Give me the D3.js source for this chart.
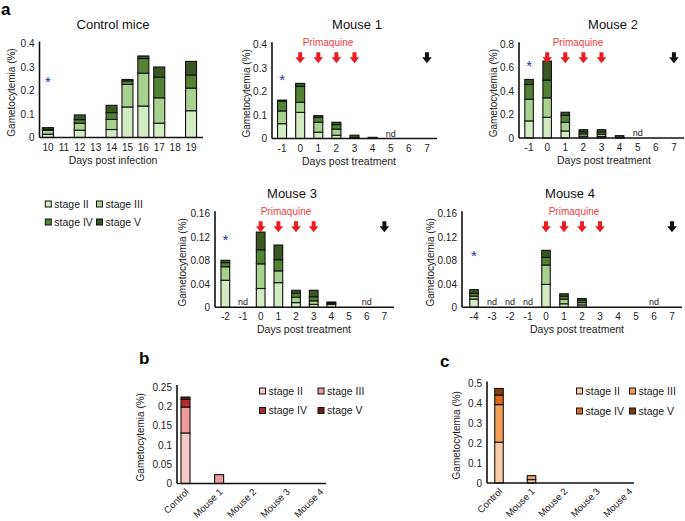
<!DOCTYPE html>
<html><head><meta charset="utf-8">
<script src="https://cdn.jsdelivr.net/npm/d3@7"></script>
<style>body{margin:0;background:#fff}svg{font-family:"Liberation Sans",Arial,sans-serif}</style>
</head><body>
<svg id="chart" width="685" height="521"></svg>
<script>
// ---------- data ----------
const stages = ["stage II", "stage III", "stage IV", "stage V"];
const greenColors = ["#d3ebc3", "#a9d18e", "#548235", "#385723"];
const pinkColors = ["#f6c9c9", "#ea9a9b", "#b8282f", "#6d1a1d"];
const orangeColors = ["#fbcba8", "#f4a057", "#dd6a1a", "#843c0c"];

const controlDays = ["10", "11", "12", "13", "14", "15", "16", "17", "18", "19"];
const controlValues = [
  [0.014, 0.017, 0.004, 0.007], null, [0.031, 0.030, 0.015, 0.020], null,
  [0.034, 0.043, 0.029, 0.031], [0.130, 0.096, 0.015, 0.006], [0.134, 0.140, 0.062, 0.011],
  [0.061, 0.108, 0.088, 0.043], null, [0.114, 0.096, 0.056, 0.058]];
const controlTicks = [0, 0.1, 0.2, 0.3, 0.4];

const mouse1Days = ["-1", "0", "1", "2", "3", "4", "5", "6", "7"];
const mouse1Values = [
  [0.063, 0.054, 0.042, 0.004], [0.111, 0.043, 0.067, 0.013], [0.027, 0.042, 0.021, 0.007],
  [0.014, 0.026, 0.019, 0.010], [0, 0, 0.004, 0.010], [0, 0, 0, 0.005], null, null, null];
const mouse1ND = ["5"];
const mouse1Ticks = [0, 0.1, 0.2, 0.3, 0.4];

const mouse2Days = ["-1", "0", "1", "2", "3", "4", "5", "6", "7"];
const mouse2Values = [
  [0.146, 0.185, 0.126, 0.043], [0.177, 0.166, 0.151, 0.163], [0.060, 0.074, 0.060, 0.026],
  [0.015, 0.020, 0.018, 0.018], [0.012, 0.020, 0.020, 0.019], [0, 0, 0.005, 0.015], null, null, null];
const mouse2ND = ["5"];
const mouse2Ticks = [0, 0.2, 0.4, 0.6, 0.8];

const mouse3Days = ["-2", "-1", "0", "1", "2", "3", "4", "5", "6", "7"];
const mouse3Values = [
  [0.046, 0.023, 0.007, 0.004], null, [0.032, 0.042, 0.024, 0.030], [0.042, 0.020, 0.019, 0.025],
  [0.008, 0.009, 0.007, 0.005], [0.005, 0.006, 0.007, 0.011], [0.005, 0.002, 0.001, 0.001], null, null, null];
const mouse3ND = ["-1", "6"];
const mouse3Ticks = [0, 0.04, 0.08, 0.12, 0.16];

const mouse4Days = ["-4", "-3", "-2", "-1", "0", "1", "2", "3", "4", "5", "6", "7"];
const mouse4Values = [
  [0.014, 0.005, 0.005, 0.006], null, null, null, [0.039, 0.033, 0.013, 0.012],
  [0.006, 0.008, 0.005, 0.004], [0.004, 0.004, 0.004, 0.003], null, null, null, null, null];
const mouse4ND = ["-3", "-2", "-1", "6"];
const mouse4Ticks = [0, 0.04, 0.08, 0.12, 0.16];

const treatmentDays = ["0", "1", "2", "3"];
const endDay = "7";

const groups = ["Control", "Mouse 1", "Mouse 2", "Mouse 3", "Mouse 4"];
const bValues = [[0.131, 0.067, 0.020, 0.006], [0, 0.023, 0, 0], [0, 0, 0, 0], [0, 0, 0, 0], [0, 0, 0, 0]];
const bTicks = [0, 0.05, 0.1, 0.15, 0.2, 0.25];
const cValues = [[0.205, 0.189, 0.048, 0.033], [0.017, 0.020, 0, 0], [0, 0, 0, 0], [0, 0, 0, 0], [0, 0, 0, 0]];
const cTicks = [0, 0.1, 0.2, 0.3, 0.4, 0.5];

// ---------- drawing ----------
const svg = d3.select("#chart");
const RED = "#ec1c24";

function stack(vals) {
  let acc = 0;
  return vals.map((v, i) => { const s = {i, y0: acc, y1: acc + v}; acc += v; return s; }).filter(s => s.y1 > s.y0);
}

function arrowPath(cx, top) {
  return `M${cx-2},${top} L${cx+2},${top} L${cx+2},${top+5} L${cx+4.8},${top+5} L${cx},${top+11} L${cx-4.8},${top+5} L${cx-2},${top+5} Z`;
}

function panel(c) {
  const g = svg.append("g");
  const y = d3.scaleLinear().domain([0, c.ticks[c.ticks.length - 1]]).range([c.y0, c.y1]);
  let x, bw;
  if (c.point) {
    x = d3.scalePoint().domain(c.days).range(c.band);
    bw = 0;
  } else {
    x = d3.scaleBand().domain(c.days).range(c.band);
    bw = x.bandwidth();
  }
  const cx = d => x(d) + bw / 2;

  // bars
  c.days.forEach((d, k) => {
    const v = c.values[k];
    if (!v) return;
    stack(v).forEach(s => {
      g.append("rect")
        .attr("x", cx(d) - c.barW / 2).attr("width", c.barW)
        .attr("y", y(s.y1)).attr("height", y(s.y0) - y(s.y1))
        .attr("fill", c.colors[s.i]).attr("stroke", "#111").attr("stroke-width", 1.1);
    });
  });

  // y axis
  const ya = d3.axisLeft(y).tickValues(c.ticks).tickSize(0).tickPadding(5).tickFormat(d3.format("~g"));
  const yg = g.append("g").attr("transform", `translate(${c.ax0},0)`).call(ya);
  yg.select(".domain").remove();
  yg.selectAll("text").attr("font-size", 10).attr("fill", "#222").attr("font-family", "Liberation Sans, Arial, sans-serif");
  g.append("line").attr("x1", c.ax0).attr("x2", c.ax0).attr("y1", c.y0).attr("y2", c.y1 - 2).attr("stroke", "#111").attr("stroke-width", 1.6);
  g.append("line").attr("x1", c.ax0).attr("x2", c.ax1).attr("y1", c.y0).attr("y2", c.y0).attr("stroke", "#111").attr("stroke-width", 1.6);

  // x axis
  if (c.rotate) {
    c.days.forEach(d => {
      g.append("text").attr("transform", `translate(${cx(d) + 4},${c.y0 + 9}) rotate(-45)`)
        .attr("text-anchor", "end").attr("font-size", 9.5).attr("fill", "#222").text(d);
    });
  } else {
    const xa = d3.axisBottom(x).tickSize(0).tickPadding(6);
    const xg = g.append("g").attr("transform", `translate(0,${c.y0})`).call(xa);
    xg.select(".domain").remove();
    xg.selectAll("text").attr("font-size", 10).attr("fill", "#222").attr("font-family", "Liberation Sans, Arial, sans-serif");
  }

  // y title
  g.append("text").attr("transform", `translate(${c.ytx},${(c.y0 + c.y1) / 2 + 2}) rotate(-90)`)
    .attr("text-anchor", "middle").attr("font-size", 10).attr("fill", "#222").text("Gametocytemia (%)");

  if (c.title) g.append("text").attr("x", c.titleX).attr("y", c.titleY).attr("text-anchor", "middle")
    .attr("font-size", 13).attr("fill", "#111").text(c.title);
  if (c.xlabel) g.append("text").attr("x", c.xlabelX).attr("y", c.y0 + 26).attr("text-anchor", "middle")
    .attr("font-size", 10.5).attr("fill", "#222").text(c.xlabel);

  // nd
  (c.nd || []).forEach(d => g.append("text").attr("x", cx(d)).attr("y", c.y0 - 2).attr("text-anchor", "middle")
    .attr("font-size", 9).attr("fill", "#222").text("nd"));

  // asterisk
  if (c.star != null) g.append("text").attr("x", cx(c.days[0])).attr("y", y(c.star) + 8).attr("text-anchor", "middle")
    .attr("font-size", 15).attr("fill", "#2e3192").text("*");

  // treatment arrows
  if (c.arrows) {
    const top = c.y1 + 8;
    treatmentDays.forEach(d => g.append("path").attr("d", arrowPath(cx(d), top)).attr("fill", RED));
    g.append("path").attr("d", arrowPath(cx(endDay), top)).attr("fill", "#111");
    g.append("text").attr("x", c.primX).attr("y", c.y1 + 1.5).attr("text-anchor", "middle")
      .attr("font-size", 10).attr("fill", "#ef3e42").text("Primaquine");
  }
}

function legend(colors, x1, x2, r1, r2) {
  const pos = [[x1, r1], [x2, r1], [x1, r2], [x2, r2]];
  stages.forEach((s, i) => {
    svg.append("rect").attr("x", pos[i][0] - 3).attr("y", pos[i][1] - 3).attr("width", 6).attr("height", 6)
      .attr("fill", colors[i]).attr("stroke", "#111").attr("stroke-width", 1);
    svg.append("text").attr("x", pos[i][0] + 6).attr("y", pos[i][1] + 3.6).attr("font-size", 10.5)
      .attr("fill", "#222").text(s);
  });
}

panel({days: controlDays, values: controlValues, ticks: controlTicks, colors: greenColors,
  band: [40, 199], ax0: 39.5, ax1: 203, y0: 137.5, y1: 43.5, barW: 11, ytx: 15,
  title: "Control mice", titleX: 113, titleY: 28.5, xlabel: "Days post infection", xlabelX: 113, star: 0.249});
panel({days: mouse1Days, values: mouse1Values, ticks: mouse1Ticks, colors: greenColors, nd: mouse1ND,
  band: [273, 436], ax0: 272, ax1: 437, y0: 138.5, y1: 44.3, barW: 9, ytx: 250,
  title: "Mouse 1", titleX: 357, titleY: 28.5, xlabel: "Days post treatment", xlabelX: 349, star: 0.26,
  arrows: true, primX: 328});
panel({days: mouse2Days, values: mouse2Values, ticks: mouse2Ticks, colors: greenColors, nd: mouse2ND,
  band: [520, 683], ax0: 519, ax1: 684, y0: 138, y1: 44.3, barW: 8.5, ytx: 497,
  title: "Mouse 2", titleX: 613, titleY: 28.5, xlabel: "Days post treatment", xlabelX: 604, star: 0.64,
  arrows: true, primX: 578});
panel({days: mouse3Days, values: mouse3Values, ticks: mouse3Ticks, colors: greenColors, nd: mouse3ND,
  band: [216.5, 393.2], ax0: 215, ax1: 394, y0: 307.3, y1: 213.3, barW: 8.7, ytx: 186,
  title: "Mouse 3", titleX: 292, titleY: 197.5, xlabel: "Days post treatment", xlabelX: 304, star: 0.12,
  arrows: true, primX: 286});
panel({days: mouse4Days, values: mouse4Values, ticks: mouse4Ticks, colors: greenColors, nd: mouse4ND,
  band: [465, 681], ax0: 462, ax1: 682, y0: 307.3, y1: 213.3, barW: 8.5, ytx: 434,
  title: "Mouse 4", titleX: 570, titleY: 197.5, xlabel: "Days post treatment", xlabelX: 577, star: 0.092,
  arrows: true, primX: 574});
panel({days: groups, values: bValues, ticks: bTicks, colors: pinkColors, point: true, rotate: true,
  band: [185.5, 320], ax0: 177, ax1: 326, y0: 483.5, y1: 387, barW: 9, ytx: 144});
panel({days: groups, values: cValues, ticks: cTicks, colors: orangeColors, point: true, rotate: true,
  band: [499, 629], ax0: 487, ax1: 634, y0: 483, y1: 383.5, barW: 8.5, ytx: 460});

legend(greenColors, 48.3, 99.5, 204, 222);
legend(pinkColors, 262.5, 321, 391, 410.5);
legend(orangeColors, 579.5, 632.5, 391, 411);

svg.append("text").attr("x", 1).attr("y", 15).attr("font-size", 17).attr("font-weight", "bold").text("a");
svg.append("text").attr("x", 139).attr("y", 364).attr("font-size", 17).attr("font-weight", "bold").text("b");
svg.append("text").attr("x", 440).attr("y", 367).attr("font-size", 17).attr("font-weight", "bold").text("c");
</script>
</body></html>
